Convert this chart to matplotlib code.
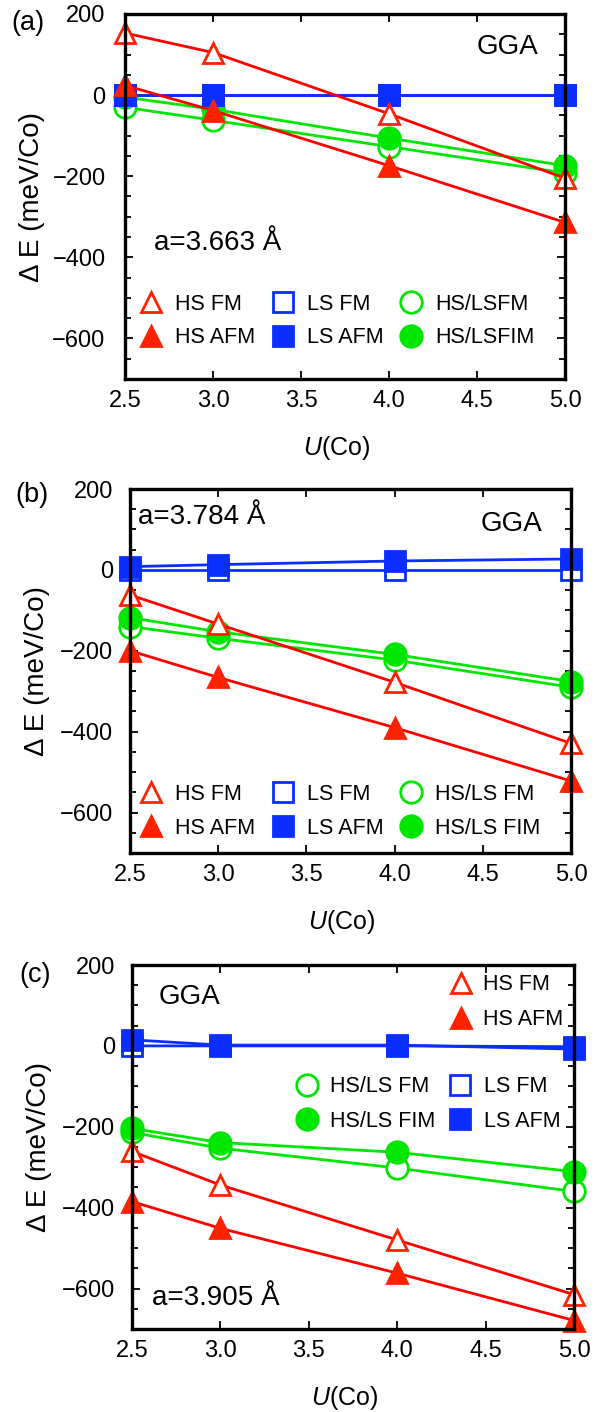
import matplotlib
matplotlib.use("Agg")
import matplotlib.pyplot as plt
from matplotlib.ticker import MultipleLocator

plt.rcParams['font.family'] = ['Liberation Sans', 'DejaVu Sans']
plt.rcParams['mathtext.fontset'] = 'custom'
plt.rcParams['mathtext.it'] = 'Liberation Sans:italic'
plt.rcParams['mathtext.rm'] = 'Liberation Sans'

# ---------------- data ----------------
U = [2.5, 3.0, 4.0, 5.0]

a_hs_fm = [153, 105, -46, -205]
a_hs_afm = [24, -38, -174, -314]
a_ls_fm = [0, 0, 0, 0]
a_ls_afm = [0, 0, 0, 0]
a_hsls_fm = [-30, -62, -127, -192]
a_hsls_fim = [-5, -35, -106, -174]

b_hs_fm = [-62, -134, -278, -429]
b_hs_afm = [-200, -266, -390, -522]
b_ls_fm = [0, 0, 0, 0]
b_ls_afm = [8, 13, 22, 27]
b_hsls_fm = [-140, -169, -223, -290]
b_hsls_fim = [-118, -153, -209, -276]

c_hs_fm = [-261, -344, -480, -615]
c_hs_afm = [-385, -451, -562, -679]
c_ls_fm = [0, 0, 0, -2]
c_ls_afm = [15, 2, 2, -8]
c_hsls_fm = [-214, -253, -302, -360]
c_hsls_fim = [-204, -239, -263, -311]

panel_letters = ['(a)', '(b)', '(c)']
lattice = ['a=3.663 Å', 'a=3.784 Å', 'a=3.905 Å']
labels_ab = [['HS FM', 'HS AFM', 'LS FM', 'LS AFM', 'HS/LSFM', 'HS/LSFIM'],
             ['HS FM', 'HS AFM', 'LS FM', 'LS AFM', 'HS/LS FM', 'HS/LS FIM'],
             ['HS FM', 'HS AFM', 'LS FM', 'LS AFM', 'HS/LS FM', 'HS/LS FIM']]

RED_L = '#ff0000'
RED_M = '#ff2200'
BLUE = '#0a2eff'
GREEN = '#00e600'

W, H = 607, 1412
fig = plt.figure(figsize=(W / 100, H / 100), dpi=100)

boxes = [(125, 565, 14, 379), (130, 571, 489, 853), (132, 574, 965, 1329)]
axes = []
for (l, r, t, b) in boxes:
    ax = fig.add_axes([l / W, 1 - b / H, (r - l) / W, (b - t) / H])
    axes.append(ax)

datasets = [
    (a_hs_fm, a_hs_afm, a_ls_fm, a_ls_afm, a_hsls_fm, a_hsls_fim),
    (b_hs_fm, b_hs_afm, b_ls_fm, b_ls_afm, b_hsls_fm, b_hsls_fim),
    (c_hs_fm, c_hs_afm, c_ls_fm, c_ls_afm, c_hsls_fm, c_hsls_fim),
]

MS = 15
MEW = 2.0
LW = 2.0
LEGFS = 15.5
ypads = [14, 12, 12]

for i, ax in enumerate(axes):
    hs_fm, hs_afm, ls_fm, ls_afm, hsls_fm, hsls_fim = datasets[i]
    labs = labels_ab[i]
    kw = dict(clip_on=False)
    # green first
    ax.plot(U, hsls_fm, '-', color=GREEN, lw=LW, zorder=2, **kw)
    m_gfm, = ax.plot(U, hsls_fm, ls='none', marker='o', ms=MS + 0.5, mfc='white',
                     mec=GREEN, mew=MEW, zorder=2.1, label=labs[4], **kw)
    ax.plot(U, hsls_fim, '-', color=GREEN, lw=LW, zorder=2.2, **kw)
    m_gfim, = ax.plot(U, hsls_fim, ls='none', marker='o', ms=MS + 0.5, mfc=GREEN,
                      mec=GREEN, mew=MEW, zorder=2.3, label=labs[5], **kw)
    # blue
    ax.plot(U, ls_fm, '-', color=BLUE, lw=LW, zorder=3, **kw)
    m_bfm, = ax.plot(U, ls_fm, ls='none', marker='s', ms=MS - 0.5, mfc='white',
                     mec=BLUE, mew=MEW, zorder=3.1, label=labs[2], **kw)
    ax.plot(U, ls_afm, '-', color=BLUE, lw=LW, zorder=3.2, **kw)
    m_bafm, = ax.plot(U, ls_afm, ls='none', marker='s', ms=MS - 0.5, mfc=BLUE,
                      mec=BLUE, mew=MEW, zorder=3.3, label=labs[3], **kw)
    # red
    ax.plot(U, hs_fm, '-', color=RED_L, lw=LW, zorder=4, **kw)
    m_rfm, = ax.plot(U, hs_fm, ls='none', marker='^', ms=MS, mfc='white',
                     mec=RED_M, mew=MEW, zorder=4.1, label=labs[0], **kw)
    ax.plot(U, hs_afm, '-', color=RED_L, lw=LW, zorder=4.2, **kw)
    m_rafm, = ax.plot(U, hs_afm, ls='none', marker='^', ms=MS, mfc=RED_M,
                      mec=RED_M, mew=MEW, zorder=4.3, label=labs[1], **kw)

    ax.set_xlim(2.5, 5.0)
    ax.set_ylim(-700, 200)
    ax.xaxis.set_major_locator(MultipleLocator(0.5))
    ax.yaxis.set_major_locator(MultipleLocator(200))
    ax.yaxis.set_minor_locator(MultipleLocator(50))
    ax.xaxis.set_major_formatter(matplotlib.ticker.FormatStrFormatter('%.1f'))
    ax.tick_params(axis='both', which='both', direction='in', top=True, right=True)
    ax.tick_params(axis='both', which='major', length=5.5, width=1.3, labelsize=17)
    ax.tick_params(axis='both', which='minor', length=4.5, width=1.3)
    ax.tick_params(axis='x', which='major', pad=8)
    ax.tick_params(axis='y', which='major', pad=ypads[i])
    for s in ax.spines.values():
        s.set_linewidth(2.4)
        s.set_zorder(5)

    ax.set_ylabel('Δ E (meV/Co)', fontsize=20)
    ax.yaxis.set_label_coords(-0.182, 0.5)
    ax.set_xlabel('$U$(Co)', fontsize=18)
    ax.xaxis.set_label_coords(0.48, -0.15)

    if i < 2:
        handles = [m_rfm, m_rafm, m_bfm, m_bafm, m_gfm, m_gfim]
        anchor = [(0.034, 0.159), (0.023, 0.115)][i]
        ax.legend(handles=handles, ncol=3, loc='center left', bbox_to_anchor=anchor,
                  frameon=False, fontsize=LEGFS, handlelength=1.0, handletextpad=0.62,
                  columnspacing=0.78, labelspacing=0.6, borderpad=0, borderaxespad=0,
                  numpoints=1)
    else:
        leg1 = ax.legend(handles=[m_rfm, m_rafm], ncol=1, loc='center left',
                         bbox_to_anchor=(0.719, 0.898), frameon=False, fontsize=LEGFS,
                         handlelength=1.0, handletextpad=0.55, labelspacing=0.65,
                         borderpad=0, borderaxespad=0, numpoints=1)
        ax.add_artist(leg1)
        ax.legend(handles=[m_gfm, m_gfim, m_bfm, m_bafm], ncol=2, loc='center left',
                  bbox_to_anchor=(0.371, 0.618), frameon=False, fontsize=LEGFS,
                  handlelength=1.0, handletextpad=0.6, columnspacing=0.65,
                  labelspacing=0.62, borderpad=0, borderaxespad=0, numpoints=1)

# annotations
axes[0].text(0.87, 0.91, 'GGA', transform=axes[0].transAxes, fontsize=20,
             ha='center', va='center')
axes[0].text(0.066, 0.373, lattice[0], transform=axes[0].transAxes, fontsize=20,
             ha='left', va='center')
axes[1].text(0.866, 0.904, 'GGA', transform=axes[1].transAxes, fontsize=20,
             ha='center', va='center')
axes[1].text(0.018, 0.923, lattice[1], transform=axes[1].transAxes, fontsize=20,
             ha='left', va='center')
axes[2].text(0.129, 0.912, 'GGA', transform=axes[2].transAxes, fontsize=20,
             ha='center', va='center')
axes[2].text(0.045, 0.085, lattice[2], transform=axes[2].transAxes, fontsize=20,
             ha='left', va='center')

for (x, y), s in zip([(28, 23), (32, 495), (35, 975)], panel_letters):
    fig.text(x / W, 1 - y / H, s, fontsize=19.5, ha='center', va='center')

fig.savefig('out.png', dpi=100)
